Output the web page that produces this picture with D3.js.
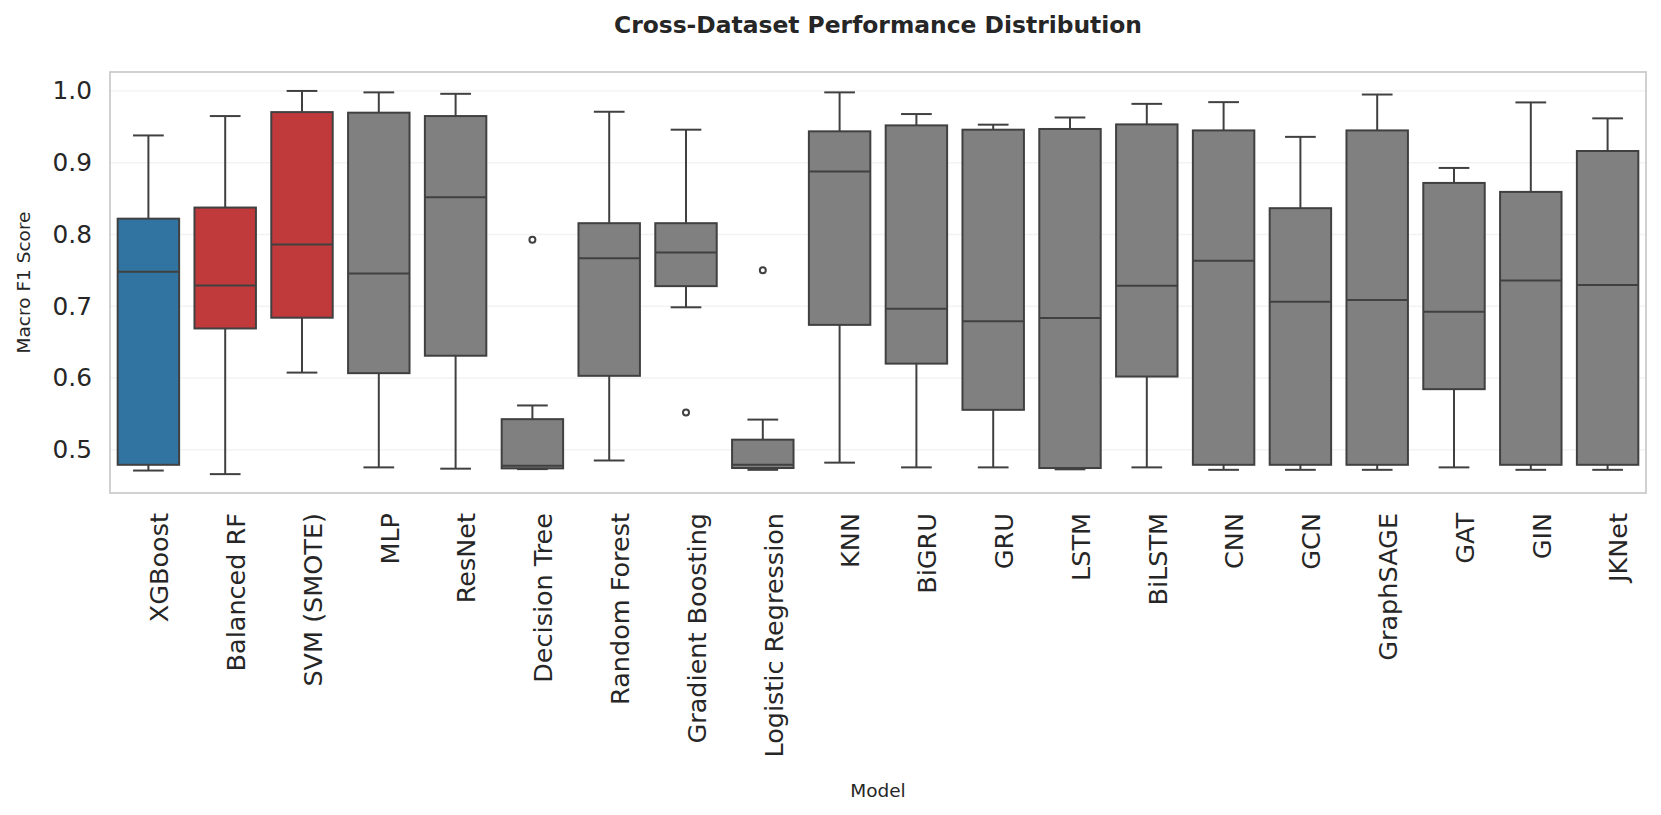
<!DOCTYPE html>
<html>
<head>
<meta charset="utf-8">
<script src="https://cdn.jsdelivr.net/npm/d3@7"></script>
<style>
  body { margin: 0; background: #fff; }
  text { font-family: "DejaVu Sans", sans-serif; fill: #262626; }
</style>
</head>
<body>
<svg class="chart"></svg>
<script>
// data
var models = ['XGBoost', 'Balanced RF', 'SVM (SMOTE)', 'MLP', 'ResNet', 'Decision Tree',
  'Random Forest', 'Gradient Boosting', 'Logistic Regression', 'KNN', 'BiGRU', 'GRU',
  'LSTM', 'BiLSTM', 'CNN', 'GCN', 'GraphSAGE', 'GAT', 'GIN', 'JKNet'];
var groups = ['best', 'balanced', 'balanced', 'other', 'other', 'other', 'other', 'other',
  'other', 'other', 'other', 'other', 'other', 'other', 'other', 'other', 'other', 'other',
  'other', 'other'];
var whiskerLow  = [0.471, 0.466, 0.6075, 0.4754, 0.4736, 0.473, 0.485, 0.6985, 0.472, 0.482,
  0.4754, 0.4754, 0.4727, 0.4754, 0.472, 0.472, 0.472, 0.4754, 0.472, 0.472];
var q1          = [0.479, 0.669, 0.684, 0.6067, 0.631, 0.474, 0.603, 0.728, 0.4745, 0.674,
  0.620, 0.5556, 0.4745, 0.602, 0.479, 0.479, 0.479, 0.5844, 0.479, 0.479];
var median      = [0.748, 0.729, 0.786, 0.7457, 0.852, 0.4778, 0.767, 0.775, 0.479, 0.8876,
  0.6966, 0.679, 0.6836, 0.7286, 0.7633, 0.7063, 0.7086, 0.6924, 0.736, 0.7295];
var q3          = [0.822, 0.8375, 0.9705, 0.9697, 0.965, 0.5426, 0.8157, 0.8157, 0.514, 0.9437,
  0.952, 0.946, 0.947, 0.9534, 0.945, 0.8366, 0.945, 0.8718, 0.8593, 0.9163];
var whiskerHigh = [0.938, 0.965, 1.0, 0.998, 0.996, 0.5617, 0.971, 0.946, 0.542, 0.998,
  0.9678, 0.953, 0.963, 0.982, 0.9844, 0.936, 0.995, 0.8927, 0.984, 0.9618];
var outliers = [[], [], [], [], [], [0.7925], [], [0.552], [0.750], [], [], [], [], [], [], [], [], [], [], []];
var yTicks = [0.5, 0.6, 0.7, 0.8, 0.9, 1.0];

// chart
var width = 1661;
var height = 815;
var margin = {left: 110, right: 15, top: 72, bottom: 322};

var chart = d3.select('.chart')
    .attr('width', width)
    .attr('height', height)

var color = d3.scaleOrdinal()
    .domain(['best', 'balanced', 'other'])
    .range(['#3274a1', '#c03a3c', '#808080'])

var x = d3.scaleBand()
    .domain(models)
    .range([margin.left, width - margin.right])
    .paddingInner(0)

var y = d3.scaleLinear()
    .domain([0.4397, 1.0264])
    .range([height - margin.bottom, margin.top])

// grid
chart.append('g')
    .selectAll('line')
    .data(yTicks)
  .enter().append('line')
    .attr('x1', margin.left)
    .attr('x2', width - margin.right)
    .attr('y1', function(d){return y(d)})
    .attr('y2', function(d){return y(d)})
    .attr('stroke', '#f3f3f3')
    .attr('stroke-width', 1.5)

var boxW = x.bandwidth() * 0.8;
var capW = boxW * 0.5;
var lineColor = '#404040';

var box = chart.selectAll('.box')
    .data(models)
  .enter().append('g')
    .attr('class', 'box')
    .attr('transform', function(d){return 'translate(' + (x(d) + x.bandwidth()/2) + ',0)'})

// whiskers
box.append('line')
    .attr('y1', function(d,i){return y(whiskerLow[i])})
    .attr('y2', function(d,i){return y(q1[i])})
    .attr('stroke', lineColor).attr('stroke-width', 2)
box.append('line')
    .attr('y1', function(d,i){return y(q3[i])})
    .attr('y2', function(d,i){return y(whiskerHigh[i])})
    .attr('stroke', lineColor).attr('stroke-width', 2)
box.append('line')
    .attr('x1', -capW/2).attr('x2', capW/2)
    .attr('y1', function(d,i){return y(whiskerLow[i])})
    .attr('y2', function(d,i){return y(whiskerLow[i])})
    .attr('stroke', lineColor).attr('stroke-width', 2)
box.append('line')
    .attr('x1', -capW/2).attr('x2', capW/2)
    .attr('y1', function(d,i){return y(whiskerHigh[i])})
    .attr('y2', function(d,i){return y(whiskerHigh[i])})
    .attr('stroke', lineColor).attr('stroke-width', 2)

// boxes
box.append('rect')
    .attr('x', -boxW/2)
    .attr('width', boxW)
    .attr('y', function(d,i){return y(q3[i])})
    .attr('height', function(d,i){return y(q1[i]) - y(q3[i])})
    .attr('fill', function(d,i){return color(groups[i])})
    .attr('stroke', lineColor)
    .attr('stroke-width', 2)

box.append('line')
    .attr('x1', -boxW/2).attr('x2', boxW/2)
    .attr('y1', function(d,i){return y(median[i])})
    .attr('y2', function(d,i){return y(median[i])})
    .attr('stroke', lineColor).attr('stroke-width', 2)

// outliers
box.selectAll('.flier')
    .data(function(d,i){return outliers[i]})
  .enter().append('circle')
    .attr('class', 'flier')
    .attr('cy', function(d){return y(d)})
    .attr('r', 3)
    .attr('fill', 'none')
    .attr('stroke', lineColor)
    .attr('stroke-width', 2)

// frame
chart.append('rect')
    .attr('x', margin.left)
    .attr('y', margin.top)
    .attr('width', width - margin.left - margin.right)
    .attr('height', height - margin.top - margin.bottom)
    .attr('fill', 'none')
    .attr('stroke', '#cccccc')
    .attr('stroke-width', 1.8)

// axes
var yAxis = d3.axisLeft(y)
    .tickValues(yTicks)
    .tickFormat(d3.format('.1f'))
    .tickSize(0)
    .tickPadding(18)

chart.append('g')
    .attr('class', 'y axis')
    .attr('transform', 'translate(' + margin.left + ',0)')
    .call(yAxis)
    .call(function(g){g.select('.domain').remove()})
    .selectAll('text')
    .style('font-size', '24.8px')
    .attr('fill', '#262626')

var xAxis = d3.axisBottom(x)
    .tickSize(0)

chart.append('g')
    .attr('class', 'x axis')
    .attr('transform', 'translate(0,' + (height - margin.bottom) + ')')
    .call(xAxis)
    .call(function(g){g.select('.domain').remove()})
    .selectAll('text')
    .style('font-size', '25.5px')
    .attr('fill', '#262626')
    .attr('text-anchor', 'end')
    .attr('transform', 'translate(0,20) rotate(-90)')
    .attr('x', 0)
    .attr('y', 0)
    .attr('dy', '0.78em')

// axes label
chart.append('text')
    .attr('transform', 'translate(30,' + ((margin.top + height - margin.bottom)/2) + ') rotate(-90)')
    .attr('text-anchor', 'middle')
    .style('font-size', '18.5px')
    .text('Macro F1 Score')

chart.append('text')
    .attr('x', (margin.left + width - margin.right)/2)
    .attr('y', 797)
    .attr('text-anchor', 'middle')
    .style('font-size', '18.5px')
    .text('Model')

chart.append('text')
    .attr('x', (margin.left + width - margin.right)/2)
    .attr('y', 33)
    .attr('text-anchor', 'middle')
    .style('font-size', '23.4px')
    .style('font-weight', 'bold')
    .text('Cross-Dataset Performance Distribution')
</script>
</body>
</html>
